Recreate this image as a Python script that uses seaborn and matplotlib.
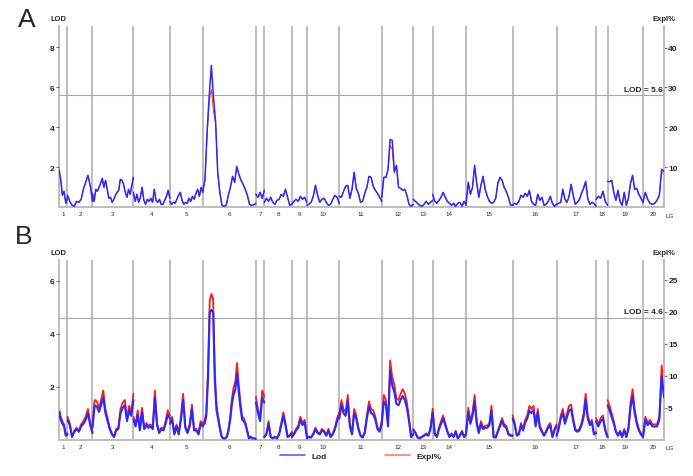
import numpy as np
import pandas as pd
import seaborn as sns
import matplotlib
matplotlib.use("Agg")
import matplotlib.pyplot as plt
from matplotlib.lines import Line2D

# linkage group lengths (cM)
lg_len = [17, 50, 82, 73, 66, 106, 17, 55, 30, 65, 85, 63, 39, 67, 93, 88, 79, 23, 71, 42]
lg_names = [str(i) for i in range(1, 21)]

# panel A: LOD and Expl% per linkage group
lod_a = [
    [1.9, 1.4, 0.6, 0.8, 0.2, 0.5],
    [0.6, 0.3, 0.1, 0.05, 0.3, 0.25, 0.4, 0.9, 1.25, 1.6, 1.1, 0.3],
    [0.7, 0.3, 0.9, 0.8, 1.0, 1.2, 1.45, 1.0, 1.35, 0.9, 0.45, 0.5, 0.25, 0.4, 0.6, 0.75, 0.85, 1.4, 1.35, 1.15,
     0.75, 0.5, 0.9, 0.65, 1.1, 1.5],
    [0.75, 0.3, 0.65, 0.25, 0.5, 1.0, 0.35, 0.15, 0.4, 0.3, 0.45, 0.25, 0.9, 0.35, 0.25, 0.4, 0.15, 0.15, 0.35,
     0.55, 0.85, 0.45],
    [0.3, 0.15, 0.25, 0.2, 0.4, 0.6, 0.75, 0.35, 0.15, 0.25, 0.2, 0.45, 0.3, 0.55, 0.4, 0.7, 0.9, 0.55, 1.0, 0.75],
    [0.8, 1.4, 3.8, 5.6, 7.1, 5.5, 4.3, 1.75, 0.75, 0.1, 0.05, 0.1, 0.6, 1.0, 1.55, 1.25, 2.05, 1.65, 1.35, 1.15,
     0.9, 0.6, 0.15, 0.1, 0.12, 0.2],
    [0.65, 0.5, 0.75, 0.45, 0.85],
    [0.25, 0.45, 0.3, 0.5, 0.25, 0.15, 0.35, 0.4, 0.65, 0.55, 0.9, 0.5, 0.1, 0.15],
    [0.15, 0.3, 0.4, 0.3, 0.55, 0.4, 0.5, 0.25],
    [0.1, 0.15, 0.25, 0.55, 1.1, 0.6, 0.25, 0.4, 0.45, 0.25, 0.1, 0.15, 0.4, 0.6, 0.5, 0.2],
    [0.55, 0.5, 0.8, 1.05, 1.1, 0.45, 0.9, 1.75, 0.95, 0.7, 0.25, 0.3, 0.7, 1.0, 1.55, 1.5, 1.05, 0.85, 0.7, 0.5,
     0.3],
    [0.5, 1.5, 1.5, 1.9, 3.4, 3.35, 1.8, 2.1, 1.0, 0.95, 0.85, 0.9, 0.6, 0.15, 0.05, 0.15],
    [0.4, 0.3, 0.2, 0.1, 0.05, 0.15, 0.3, 0.15, 0.25, 0.35],
    [0.65, 0.3, 0.2, 0.35, 0.5, 0.75, 0.5, 0.3, 0.2, 0.1, 0.2, 0.05, 0.2, 0.25, 0.05, 0.3, 0.1],
    [0.2, 1.25, 0.65, 1.0, 2.1, 1.2, 0.5, 1.1, 1.55, 0.9, 0.55, 0.3, 0.2, 0.25, 0.45, 1.2, 1.5, 1.35, 1.0, 0.8,
     0.5, 0.12, 0.1],
    [0.1, 0.2, 0.15, 0.3, 0.6, 0.5, 0.7, 0.55, 0.85, 0.3, 0.15, 0.1, 0.65, 0.35, 0.5, 0.1, 0.15, 0.3, 0.55, 0.2,
     0.05, 0.15],
    [0.15, 0.2, 0.25, 0.9, 0.4, 0.25, 0.55, 1.15, 0.6, 0.15, 0.25, 0.4, 0.7, 0.95, 1.3, 0.45, 0.15, 0.25, 0.2, 0.05],
    [0.4, 0.55, 0.45, 0.8, 0.3, 0.1],
    [1.3, 1.28, 1.35, 0.75, 0.35, 0.85, 0.3, 0.1, 0.75, 0.1, 0.45, 1.2, 1.6, 0.9, 0.95, 0.65, 0.45, 0.25],
    [0.25, 0.75, 0.4, 0.2, 0.15, 0.2, 0.35, 0.6, 1.9, 1.8],
]
expl_a = [
    [7.5, 7.0, 3.0, 4.0, 1.0, 2.5],
    [3.0, 1.5, 0.5, 0.25, 1.5, 1.25, 2.0, 4.5, 6.25, 8.0, 5.5, 1.5],
    [3.5, 1.5, 4.5, 4.0, 5.0, 6.0, 7.25, 5.0, 6.75, 4.5, 2.25, 2.5, 1.25, 2.0, 3.0, 3.75, 4.25, 7.0, 6.75, 5.75,
     3.75, 2.5, 4.5, 3.25, 5.5, 7.5],
    [3.75, 1.5, 3.25, 1.25, 2.5, 5.0, 1.75, 0.75, 2.0, 1.5, 2.25, 1.25, 4.5, 1.75, 1.25, 2.0, 0.75, 0.75, 1.75,
     2.75, 4.25, 2.25],
    [1.5, 0.75, 1.25, 1.0, 2.0, 3.0, 3.75, 1.75, 0.75, 1.25, 1.0, 2.25, 1.5, 2.75, 2.0, 3.5, 4.5, 2.75, 5.0, 3.75],
    [4.0, 7.0, 18.0, 26.5, 29.5, 24.0, 21.0, 8.5, 3.75, 0.5, 0.25, 0.5, 3.0, 5.0, 7.75, 6.25, 10.0, 8.25, 6.75,
     5.75, 4.5, 3.0, 0.75, 0.5, 0.6, 1.0],
    [3.25, 2.5, 3.75, 2.25, 4.25],
    [1.25, 2.25, 1.5, 2.5, 1.25, 0.75, 1.75, 2.0, 3.25, 2.75, 4.5, 2.5, 0.5, 0.75],
    [0.75, 1.5, 2.0, 1.5, 2.75, 2.0, 2.5, 1.25],
    [0.5, 0.75, 1.25, 2.75, 5.5, 3.0, 1.25, 2.0, 2.25, 1.25, 0.5, 0.75, 2.0, 3.0, 2.5, 1.0],
    [2.75, 2.5, 4.0, 5.25, 5.5, 2.25, 4.5, 8.75, 4.75, 3.5, 1.25, 1.5, 3.5, 5.0, 7.75, 7.5, 5.25, 4.25, 3.5, 2.5,
     1.5],
    [2.5, 7.5, 7.5, 9.5, 15.5, 14.5, 8.5, 10.5, 5.0, 4.75, 4.25, 4.5, 3.0, 0.75, 0.25, 0.75],
    [2.0, 1.5, 1.0, 0.5, 0.25, 0.75, 1.5, 0.75, 1.25, 1.75],
    [3.25, 1.5, 1.0, 1.75, 2.5, 3.75, 2.5, 1.5, 1.0, 0.5, 1.0, 0.25, 1.0, 1.25, 0.25, 1.5, 0.5],
    [1.0, 6.25, 3.25, 5.0, 10.25, 6.0, 2.5, 5.5, 7.75, 4.5, 2.75, 1.5, 1.0, 1.25, 2.25, 6.0, 7.5, 6.75, 5.0, 4.0,
     2.5, 0.6, 0.5],
    [0.5, 1.0, 0.75, 1.5, 3.0, 2.5, 3.5, 2.75, 4.25, 1.5, 0.75, 0.5, 3.25, 1.75, 2.5, 0.5, 0.75, 1.5, 2.75, 1.0,
     0.25, 0.75],
    [0.75, 1.0, 1.25, 4.5, 2.0, 1.25, 2.75, 5.75, 3.0, 0.75, 1.25, 2.0, 3.5, 4.75, 6.5, 2.25, 0.75, 1.25, 1.0, 0.25],
    [2.0, 2.75, 2.25, 4.0, 1.5, 0.5],
    [6.5, 6.4, 6.75, 3.75, 1.75, 4.25, 1.5, 0.5, 3.75, 0.5, 2.25, 6.0, 8.0, 4.5, 4.75, 3.25, 2.25, 1.25],
    [1.25, 3.75, 2.0, 1.0, 0.75, 1.0, 1.75, 3.0, 9.0, 8.0],
]

# panel B
lod_b = [
    [1.05, 0.75, 0.6, 0.5, 0.15, 0.2],
    [0.75, 0.55, 0.1, 0.3, 0.4, 0.3, 0.5, 0.6, 0.75, 1.0, 0.55, 0.25],
    [0.45, 1.3, 1.25, 1.05, 1.3, 1.6, 1.0, 0.7, 0.4, 0.2, 0.1, 0.35, 0.4, 1.0, 1.2, 1.3, 0.7, 1.1, 0.9, 1.5],
    [0.75, 0.5, 0.95, 0.35, 1.05, 0.4, 0.55, 0.45, 0.5, 0.4, 1.6, 0.55, 0.25, 0.4, 0.35, 0.6, 0.95, 0.8],
    [0.6, 0.75, 0.2, 0.5, 0.2, 0.75, 1.5, 0.45, 0.25, 0.5, 1.15, 0.35, 0.35, 0.2, 0.6, 0.5],
    [0.55, 0.6, 0.9, 2.3, 4.8, 4.9, 4.8, 2.2, 1.1, 0.75, 0.4, 0.1, 0.05, 0.05, 0.1, 0.35, 0.75, 1.35, 1.7, 1.9,
     2.5, 1.8, 1.2, 0.75, 0.7, 0.55, 0.3, 0.05, 0.1, 0.05, 0.05, 0.03],
    [1.4, 1.0, 0.7, 1.6, 1.4],
    [0.1, 0.2, 0.6, 0.1, 0.05, 0.1, 0.05, 0.2, 0.55, 0.9, 0.55, 0.1, 0.15, 0.25],
    [0.1, 0.2, 0.35, 0.45, 0.75, 0.55, 0.65, 0.12],
    [0.05, 0.1, 0.08, 0.2, 0.4, 0.25, 0.2, 0.35, 0.3, 0.15, 0.35, 0.1, 0.2, 0.4, 0.7, 0.9],
    [0.8, 1.3, 1.0, 0.9, 1.45, 0.5, 0.2, 1.0, 0.8, 0.4, 0.15, 0.08, 0.25, 0.8, 1.25, 1.0, 0.95, 0.75, 0.4, 0.3, 0.6],
    [0.6, 1.45, 1.3, 0.5, 2.6, 2.05, 1.8, 1.35, 1.3, 1.5, 1.65, 1.5, 1.2, 0.7, 0.1, 0.2],
    [0.35, 0.25, 0.08, 0.05, 0.1, 0.15, 0.2, 0.15, 0.4, 1.0],
    [1.0, 0.2, 0.1, 0.4, 0.6, 0.8, 0.55, 0.3, 0.1, 0.2, 0.1, 0.3, 0.05, 0.15, 0.3, 0.1, 0.2],
    [0.25, 1.05, 0.6, 0.9, 1.45, 0.6, 0.25, 0.6, 0.4, 0.45, 0.45, 0.55, 1.1, 0.1, 0.08, 0.3, 0.5, 0.7, 0.5, 0.45,
     0.2, 0.15, 0.15],
    [0.8, 0.55, 0.15, 0.2, 0.55, 0.35, 0.65, 0.8, 1.1, 1.0, 1.1, 0.5, 1.0, 0.45, 0.3, 0.15, 0.3, 0.45, 0.55, 0.1,
     0.35, 0.5],
    [0.15, 0.4, 0.8, 1.0, 0.6, 0.85, 1.1, 1.15, 0.7, 0.35, 0.3, 0.35, 0.55, 0.85, 1.5, 0.8, 0.55, 0.65, 0.2, 0.25],
    [0.7, 0.5, 0.7, 0.8, 0.35, 0.1],
    [1.3, 1.1, 0.85, 0.6, 0.3, 0.15, 0.3, 0.1, 0.35, 0.1, 0.4, 1.2, 1.65, 1.0, 0.6, 0.35, 0.2, 0.1],
    [0.1, 0.75, 0.55, 0.65, 0.5, 0.5, 0.5, 0.75, 2.4, 1.6],
]
expl_b = [
    [5.0, 3.6, 2.9, 2.4, 0.7, 1.0],
    [3.6, 2.6, 0.5, 1.4, 1.9, 1.4, 2.4, 2.9, 3.6, 4.8, 2.6, 1.2],
    [2.2, 6.2, 6.0, 5.0, 6.2, 7.7, 4.8, 3.4, 1.9, 1.0, 0.5, 1.7, 1.9, 4.8, 5.8, 6.2, 3.4, 5.3, 4.3, 7.2],
    [3.6, 2.4, 4.6, 1.7, 5.0, 1.9, 2.6, 2.2, 2.4, 1.9, 7.7, 2.6, 1.2, 1.9, 1.7, 2.9, 4.6, 3.8],
    [2.9, 3.6, 1.0, 2.4, 1.0, 3.6, 7.2, 2.2, 1.2, 2.4, 5.5, 1.7, 1.7, 1.0, 2.9, 2.4],
    [2.6, 2.9, 4.3, 11.0, 21.8, 22.8, 22.0, 10.5, 5.3, 3.6, 1.9, 0.5, 0.2, 0.2, 0.5, 1.7, 3.6, 6.5, 8.2, 9.1,
     12.0, 8.6, 5.8, 3.6, 3.4, 2.6, 1.4, 0.2, 0.5, 0.2, 0.2, 0.1],
    [6.7, 4.8, 3.4, 7.7, 6.7],
    [0.5, 1.0, 2.9, 0.5, 0.2, 0.5, 0.2, 1.0, 2.6, 4.3, 2.6, 0.5, 0.7, 1.2],
    [0.5, 1.0, 1.7, 2.2, 3.6, 2.6, 3.1, 0.6],
    [0.2, 0.5, 0.4, 1.0, 1.9, 1.2, 1.0, 1.7, 1.4, 0.7, 1.7, 0.5, 1.0, 1.9, 3.4, 4.3],
    [3.8, 6.2, 4.8, 4.3, 7.0, 2.4, 1.0, 4.8, 3.8, 1.9, 0.7, 0.4, 1.2, 3.8, 6.0, 4.8, 4.6, 3.6, 1.9, 1.4, 2.9],
    [2.9, 7.0, 6.2, 2.4, 12.4, 9.8, 8.6, 6.5, 6.2, 7.2, 7.9, 7.2, 5.8, 3.4, 0.5, 1.0],
    [1.7, 1.2, 0.4, 0.2, 0.5, 0.7, 1.0, 0.7, 1.9, 4.8],
    [4.8, 1.0, 0.5, 1.9, 2.9, 3.8, 2.6, 1.4, 0.5, 1.0, 0.5, 1.4, 0.2, 0.7, 1.4, 0.5, 1.0],
    [1.2, 5.0, 2.9, 4.3, 7.0, 2.9, 1.2, 2.9, 1.9, 2.2, 2.2, 2.6, 5.3, 0.5, 0.4, 1.4, 2.4, 3.4, 2.4, 2.2, 1.0, 0.7,
     0.7],
    [3.8, 2.6, 0.7, 1.0, 2.6, 1.7, 3.1, 3.8, 5.3, 4.8, 5.3, 2.4, 4.8, 2.2, 1.4, 0.7, 1.4, 2.2, 2.6, 0.5, 1.7, 2.4],
    [0.7, 1.9, 3.8, 4.8, 2.9, 4.1, 5.3, 5.5, 3.4, 1.7, 1.4, 1.7, 2.6, 4.1, 7.2, 3.8, 2.6, 3.1, 1.0, 1.2],
    [3.4, 2.4, 3.4, 3.8, 1.7, 0.5],
    [6.2, 5.3, 4.1, 2.9, 1.4, 0.7, 1.4, 0.5, 1.7, 0.5, 1.9, 5.8, 7.9, 4.8, 2.9, 1.7, 1.0, 0.5],
    [0.5, 3.6, 2.6, 3.1, 2.4, 2.4, 2.4, 3.6, 11.6, 7.7],
]

thr_a = 5.6
thr_b = 4.6

BLUE = "#2a2aff"
RED = "#ff1a1a"
GRAY = "#bdbdbd"


def build(lod, expl):
    rows = []
    start = 0
    for i, L in enumerate(lg_len):
        assert len(lod[i]) == len(expl[i]), (i, len(lod[i]), len(expl[i]))
        pos = np.linspace(start, start + L, len(lod[i]))
        for p, a, b in zip(pos, lod[i], expl[i]):
            rows.append((i + 1, p, a, b))
        start += L
    return pd.DataFrame(rows, columns=["lg", "pos", "lod", "expl"])


sns.set_theme(style="white")
plt.rcParams["font.family"] = ["Liberation Sans", "DejaVu Sans"]

fig = plt.figure(figsize=(6.93, 4.77), dpi=100)

bounds = np.cumsum([0] + lg_len)
centers = (bounds[:-1] + bounds[1:]) / 2
total = bounds[-1]


def panel(rect, df, lod_top, expl_top, lod_ticks, expl_ticks, thr, lw_blue, lw_red):
    ax = fig.add_axes(rect)
    ax2 = ax.twinx()
    # LOD axis drawn above the Expl% axis
    ax.set_zorder(ax2.get_zorder() + 1)
    ax.patch.set_visible(False)

    for b in bounds[1:-1]:
        ax2.axvline(b, color=GRAY, lw=1.4, zorder=0)

    sns.lineplot(data=df, x="pos", y="expl", units="lg", estimator=None, color=RED, lw=lw_red,
                 ax=ax2, legend=False)
    ax.axhline(thr, color="#a8a8a8", lw=0.8, zorder=1)
    sns.lineplot(data=df, x="pos", y="lod", units="lg", estimator=None, color=BLUE, lw=lw_blue,
                 ax=ax, legend=False, zorder=3)

    ax.set_xlim(0, total)
    ax.set_ylim(0, lod_top)
    ax2.set_ylim(0, expl_top)
    ax.set_xlabel("")
    ax.set_ylabel("")
    ax2.set_ylabel("")

    ax.set_yticks(lod_ticks)
    ax.set_yticklabels([str(t) for t in lod_ticks], fontsize=6, fontweight="bold")
    ax2.set_yticks(expl_ticks)
    ax2.set_yticklabels([str(t) for t in expl_ticks], fontsize=6, fontweight="bold")
    ax.tick_params(axis="y", length=2, width=0.6, pad=1, color="#555555", left=True)
    ax2.tick_params(axis="y", length=2, width=0.6, pad=1, color="#555555", right=True)

    ax.set_xticks(centers)
    ax.set_xticklabels(lg_names, fontsize=4.5)
    ax.tick_params(axis="x", length=0, pad=3)

    for a in (ax, ax2):
        for s in a.spines.values():
            s.set_visible(False)
    for side in ("left", "bottom", "right"):
        ax2.spines[side].set_visible(True)
        ax2.spines[side].set_color(GRAY)
        ax2.spines[side].set_linewidth(1.4)

    ax.text(-0.001, 1.02, "LOD", transform=ax.transAxes, ha="center", va="bottom",
            fontsize=5.5, fontweight="bold")
    ax.text(1.0, 1.02, "Expl%", transform=ax.transAxes, ha="center", va="bottom",
            fontsize=5.5, fontweight="bold")
    ax.text(1.003, -0.03, "LG", transform=ax.transAxes, ha="left", va="top", fontsize=4.5)
    ax.text(0.998, thr + lod_top * 0.015, f"LOD = {thr}", transform=ax.get_yaxis_transform(),
            ha="right", va="bottom", fontsize=6, fontweight="bold")
    return ax, ax2


df_a = build(lod_a, expl_a)
df_b = build(lod_b, expl_b)

ax_a, _ = panel([59 / 693, 1 - 208.3 / 477, 605 / 693, 181.3 / 477], df_a,
                9.07, 45.4, [2, 4, 6, 8], [10, 20, 30, 40], thr_a, 1.1, 0.6)
ax_b, _ = panel([59 / 693, 1 - 440.7 / 477, 605 / 693, 179.7 / 477], df_b,
                6.78, 28.1, [2, 4, 6], [5, 10, 15, 20, 25], thr_b, 1.5, 1.3)

fig.text(27 / 693, 1 - 20 / 477, "A", fontsize=19, ha="center", va="center")
fig.text(24 / 693, 1 - 237 / 477, "B", fontsize=19, ha="center", va="center")

handles = [Line2D([], [], color="#5a5aff", lw=1.2), Line2D([], [], color="#ff7a7a", lw=1.2)]
fig.legend(handles, ["Lod", "Expl%"], loc="center", bbox_to_anchor=(361 / 693, 1 - 456.7 / 477),
           ncol=2, frameon=False, handlelength=3.0, handletextpad=0.8,
           columnspacing=7.0, prop={"weight": "bold", "size": 6})

fig.savefig("out.png", dpi=100, facecolor="white")
